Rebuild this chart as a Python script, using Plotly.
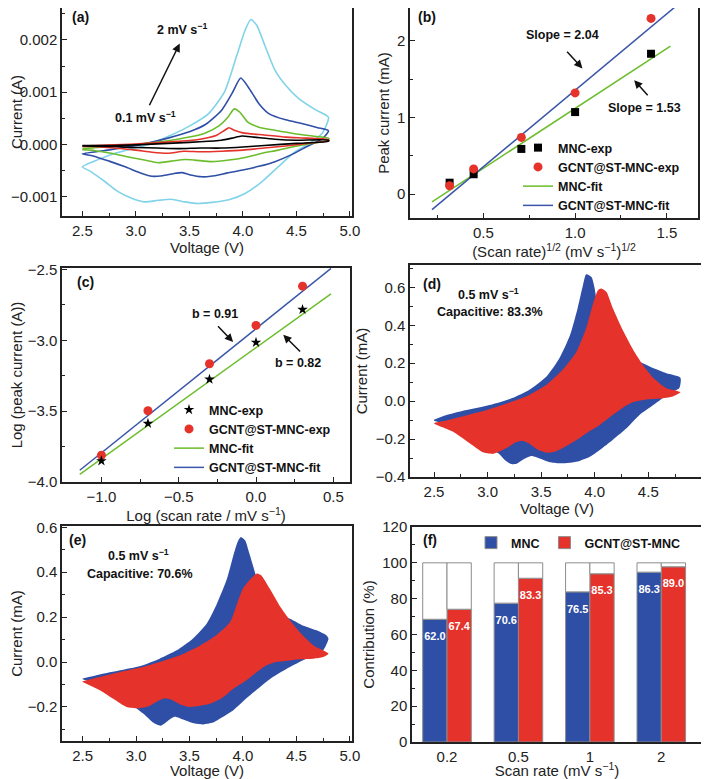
import plotly.graph_objects as go

# ---------- (a) CV curves at 0.1 / 0.2 / 0.5 / 1 / 2 mV s-1, points are (V, mA) ----------
cv_01 = [(2.5, -0.02), (2.8, -0.02), (3.1, 0.0), (3.4, 0.03), (3.6, 0.05), (3.8, 0.08), (3.9, 0.12),
         (3.99, 0.16), (4.1, 0.14), (4.3, 0.1), (4.5, 0.08), (4.8, 0.08),
         (4.8, 0.06), (4.5, 0.02), (4.2, -0.02), (4.0, -0.05), (3.8, -0.07), (3.6, -0.07), (3.4, -0.08),
         (3.2, -0.07), (3.0, -0.06), (2.8, -0.04), (2.5, -0.03)]
cv_02 = [(2.5, -0.03), (2.8, -0.01), (3.1, 0.02), (3.4, 0.06), (3.6, 0.1), (3.75, 0.17), (3.83, 0.27),
         (3.87, 0.32), (3.92, 0.27), (4.0, 0.22), (4.2, 0.18), (4.4, 0.14), (4.6, 0.12), (4.8, 0.09),
         (4.8, 0.07), (4.6, 0.02), (4.4, -0.03), (4.2, -0.07), (4.0, -0.11), (3.8, -0.13), (3.6, -0.14),
         (3.45, -0.13), (3.3, -0.17), (3.15, -0.15), (3.0, -0.11), (2.8, -0.07), (2.6, -0.04), (2.5, -0.04)]
cv_05 = [(2.5, -0.08), (2.7, -0.05), (2.9, -0.02), (3.1, 0.02), (3.3, 0.07), (3.5, 0.14), (3.65, 0.22),
         (3.78, 0.36), (3.86, 0.52), (3.92, 0.68), (3.97, 0.62), (4.05, 0.42), (4.15, 0.33), (4.3, 0.27),
         (4.5, 0.2), (4.65, 0.16), (4.8, 0.12),
         (4.8, 0.08), (4.64, 0.02), (4.48, -0.04), (4.33, -0.11), (4.18, -0.17), (4.02, -0.25), (3.87, -0.3),
         (3.71, -0.33), (3.55, -0.3), (3.46, -0.29), (3.33, -0.32), (3.21, -0.35), (3.08, -0.3),
         (2.93, -0.24), (2.77, -0.17), (2.62, -0.12), (2.5, -0.1)]
cv_1 = [(2.5, -0.18), (2.7, -0.12), (2.9, -0.06), (3.1, 0.02), (3.3, 0.12), (3.5, 0.24), (3.65, 0.38),
        (3.8, 0.65), (3.9, 0.98), (3.98, 1.27), (4.05, 1.1), (4.15, 0.78), (4.25, 0.58), (4.4, 0.47),
        (4.55, 0.4), (4.7, 0.32), (4.8, 0.26),
        (4.75, 0.12), (4.6, -0.04), (4.45, -0.2), (4.3, -0.33), (4.15, -0.42), (4.0, -0.49), (3.85, -0.55),
        (3.7, -0.61), (3.62, -0.62), (3.5, -0.58), (3.43, -0.54), (3.35, -0.56), (3.25, -0.6), (3.15, -0.61),
        (3.05, -0.55), (2.9, -0.43), (2.75, -0.32), (2.6, -0.22), (2.5, -0.18)]
cv_2 = [(2.5, -0.43), (2.6, -0.33), (2.71, -0.24), (2.82, -0.16), (2.93, -0.1), (3.12, 0.0), (3.3, 0.15),
        (3.5, 0.35), (3.68, 0.59), (3.83, 1.01), (3.94, 1.68), (4.02, 2.18), (4.075, 2.39), (4.13, 2.28),
        (4.21, 1.87), (4.3, 1.42), (4.4, 1.13), (4.52, 0.88), (4.68, 0.66), (4.8, 0.52),
        (4.74, 0.21), (4.62, 0.02), (4.49, -0.14), (4.33, -0.43), (4.18, -0.71), (4.02, -0.94), (3.87, -1.06),
        (3.71, -1.11), (3.58, -1.13), (3.46, -1.1), (3.33, -1.05), (3.21, -1.07), (3.08, -1.1), (2.96, -1.03),
        (2.83, -0.9), (2.71, -0.71), (2.58, -0.52), (2.5, -0.43)]

# ---------- (b) / (c) peak current vs scan rate ----------
sqrt_rate = [0.316, 0.447, 0.707, 1.0, 1.414]
ip_mnc = [0.15, 0.26, 0.59, 1.07, 1.83]
ip_gcnt = [0.11, 0.33, 0.74, 1.32, 2.29]
fit_b_x = [0.22, 1.52]
fit_b_mnc = [-0.10, 1.93]
fit_b_x2 = [0.22, 1.57]
fit_b_gcnt = [-0.20, 2.49]

log_rate = [-1.0, -0.699, -0.301, 0.0, 0.301]
logi_mnc = [-3.851, -3.587, -3.275, -3.015, -2.783]
logi_gcnt = [-3.811, -3.497, -3.166, -2.895, -2.618]
fit_c_x = [-1.14, 0.485]
fit_c_mnc = [-3.946, -2.672]
fit_c_gcnt = [-3.917, -2.493]

# ---------- (d) / (e) total CV (blue) and capacitive part (red), (V, mA) ----------
d_total = [(2.5, -0.098), (2.61, -0.075), (2.77, -0.051), (3.0, -0.023), (3.23, 0.016), (3.39, 0.06),
           (3.55, 0.13), (3.67, 0.226), (3.77, 0.349), (3.84, 0.489), (3.89, 0.611), (3.92, 0.669),
           (3.97, 0.655), (4.0, 0.594), (4.03, 0.471), (4.09, 0.331), (4.17, 0.261), (4.3, 0.235),
           (4.42, 0.208), (4.55, 0.173), (4.67, 0.147), (4.8, 0.124),
           (4.79, 0.07), (4.7, 0.042), (4.55, -0.019), (4.42, -0.072), (4.3, -0.142), (4.17, -0.203),
           (4.05, -0.256), (3.95, -0.295), (3.86, -0.315), (3.77, -0.325), (3.67, -0.328), (3.58, -0.322),
           (3.5, -0.305), (3.41, -0.289), (3.34, -0.305), (3.27, -0.33), (3.22, -0.332), (3.16, -0.31),
           (3.1, -0.275), (3.0, -0.25), (2.86, -0.194), (2.67, -0.133), (2.5, -0.103)]
d_cap = [(2.5, -0.116), (2.61, -0.103), (2.77, -0.08), (3.0, -0.046), (3.23, -0.002), (3.39, 0.033),
         (3.55, 0.086), (3.7, 0.165), (3.83, 0.261), (3.92, 0.384), (3.98, 0.506), (4.03, 0.585),
         (4.06, 0.594), (4.11, 0.576), (4.17, 0.489), (4.27, 0.366), (4.36, 0.27), (4.45, 0.191),
         (4.55, 0.121), (4.67, 0.068), (4.77, 0.054), (4.8, 0.047),
         (4.73, 0.025), (4.61, 0.014), (4.48, 0.009), (4.36, -0.005), (4.27, -0.032), (4.17, -0.072),
         (4.05, -0.124), (3.95, -0.159), (3.86, -0.194), (3.73, -0.238), (3.64, -0.264), (3.56, -0.272),
         (3.47, -0.256), (3.39, -0.224), (3.32, -0.209), (3.26, -0.218), (3.19, -0.243), (3.11, -0.266),
         (3.05, -0.278), (2.95, -0.268), (2.83, -0.221), (2.67, -0.159), (2.5, -0.116)]
e_total = [(2.5, -0.074), (2.66, -0.056), (2.85, -0.037), (3.04, -0.018), (3.22, 0.015), (3.38, 0.052),
           (3.53, 0.104), (3.66, 0.171), (3.75, 0.253), (3.85, 0.371), (3.91, 0.475), (3.95, 0.535),
           (3.98, 0.557), (4.02, 0.542), (4.06, 0.483), (4.13, 0.371), (4.2, 0.267), (4.31, 0.215),
           (4.44, 0.193), (4.56, 0.163), (4.69, 0.141), (4.78, 0.119), (4.8, 0.104),
           (4.75, 0.052), (4.66, 0.03), (4.53, 0.0), (4.41, -0.03), (4.28, -0.067), (4.16, -0.111),
           (4.03, -0.163), (3.91, -0.215), (3.81, -0.245), (3.72, -0.27), (3.63, -0.278), (3.55, -0.274),
           (3.45, -0.258), (3.36, -0.244), (3.29, -0.265), (3.23, -0.284), (3.16, -0.27), (3.08, -0.235),
           (3.0, -0.205), (2.85, -0.149), (2.66, -0.104), (2.5, -0.077)]
e_cap = [(2.5, -0.086), (2.66, -0.067), (2.85, -0.045), (3.04, -0.025), (3.22, 0.0), (3.41, 0.03),
         (3.6, 0.074), (3.75, 0.119), (3.88, 0.178), (3.94, 0.253), (4.0, 0.327), (4.06, 0.364),
         (4.13, 0.394), (4.17, 0.386), (4.25, 0.327), (4.34, 0.253), (4.44, 0.186), (4.53, 0.134),
         (4.66, 0.074), (4.75, 0.052), (4.8, 0.037),
         (4.75, 0.022), (4.66, 0.015), (4.53, 0.012), (4.44, 0.007), (4.31, 0.0), (4.22, -0.015),
         (4.13, -0.045), (4.03, -0.082), (3.91, -0.119), (3.8, -0.162), (3.7, -0.185), (3.6, -0.195),
         (3.5, -0.2), (3.42, -0.19), (3.34, -0.17), (3.27, -0.162), (3.2, -0.175), (3.12, -0.197),
         (3.02, -0.206), (2.91, -0.2), (2.79, -0.165), (2.66, -0.126), (2.5, -0.089)]

# ---------- (f) capacitive contribution ----------
rates = ['0.2', '0.5', '1', '2']
bar_mnc = [68.5, 77.5, 83.8, 94.8]
bar_gcnt = [74.1, 91.4, 93.9, 97.8]
lab_mnc = ['62.0', '70.6', '76.5', '86.3']
lab_gcnt = ['67.4', '83.3', '85.3', '89.0']

BLUE = '#2f4ea6'
RED = '#e5322a'
GREEN = '#6cbd2c'
LBLUE = '#3a55a8'
CYAN = '#80d3e8'
FONT = 'Liberation Sans, Arial, sans-serif'
# the page body keeps its default 8px margin, so the figure is 8px smaller than the window
OFF = 8
W, H = 709 - OFF, 779 - OFF


def fx(p):
    return (p - OFF) / W


def fy(p):
    return 1 - (p - OFF) / H


def xs(pts):
    return [p[0] for p in pts]


def ys(pts, k=1.0):
    return [p[1] * k for p in pts]


fig = go.Figure()

# (a)
for pts, col in [(cv_2, CYAN), (cv_1, BLUE), (cv_05, GREEN), (cv_02, RED), (cv_01, 'black')]:
    fig.add_trace(go.Scatter(x=xs(pts), y=ys(pts, 0.001), mode='lines', line=dict(color=col, width=1.6, shape='spline', smoothing=0.6),
                             showlegend=False, xaxis='x', yaxis='y'))

# (b)
fig.add_trace(go.Scatter(x=fit_b_x, y=fit_b_mnc, mode='lines', name='MNC-fit', line=dict(color=GREEN, width=1.5),
                         xaxis='x2', yaxis='y2', legend='legend2', legendrank=3))
fig.add_trace(go.Scatter(x=fit_b_x2, y=fit_b_gcnt, mode='lines', name='GCNT@ST-MNC-fit', line=dict(color=LBLUE, width=1.5),
                         xaxis='x2', yaxis='y2', legend='legend2', legendrank=4))
fig.add_trace(go.Scatter(x=sqrt_rate, y=ip_mnc, mode='markers', name='MNC-exp', marker=dict(symbol='square', color='black', size=8),
                         xaxis='x2', yaxis='y2', legend='legend2', legendrank=1))
fig.add_trace(go.Scatter(x=sqrt_rate, y=ip_gcnt, mode='markers', name='GCNT@ST-MNC-exp', marker=dict(symbol='circle', color=RED, size=9),
                         xaxis='x2', yaxis='y2', legend='legend2', legendrank=2))

# (c)
fig.add_trace(go.Scatter(x=fit_c_x, y=fit_c_mnc, mode='lines', name='MNC-fit', line=dict(color=GREEN, width=1.5),
                         xaxis='x3', yaxis='y3', legend='legend3', legendrank=3))
fig.add_trace(go.Scatter(x=fit_c_x, y=fit_c_gcnt, mode='lines', name='GCNT@ST-MNC-fit', line=dict(color=LBLUE, width=1.5),
                         xaxis='x3', yaxis='y3', legend='legend3', legendrank=4))
fig.add_trace(go.Scatter(x=log_rate, y=logi_gcnt, mode='markers', name='GCNT@ST-MNC-exp', marker=dict(symbol='circle', color=RED, size=9),
                         xaxis='x3', yaxis='y3', legend='legend3', legendrank=2))
fig.add_trace(go.Scatter(x=log_rate, y=logi_mnc, mode='markers', name='MNC-exp', marker=dict(symbol='star', color='black', size=8),
                         xaxis='x3', yaxis='y3', legend='legend3', legendrank=1))

# (d) and (e)
for tot, cap, xa, ya in [(d_total, d_cap, 'x4', 'y4'), (e_total, e_cap, 'x5', 'y5')]:
    fig.add_trace(go.Scatter(x=xs(tot), y=ys(tot), fill='toself', fillcolor=BLUE, mode='lines',
                             line=dict(width=0, color=BLUE, shape='spline', smoothing=0.6), showlegend=False, xaxis=xa, yaxis=ya))
    fig.add_trace(go.Scatter(x=xs(cap), y=ys(cap), fill='toself', fillcolor=RED, mode='lines',
                             line=dict(width=0, color=RED, shape='spline', smoothing=0.6), showlegend=False, xaxis=xa, yaxis=ya))

# (f)
pos = list(range(len(rates)))
xm = [p - 0.17 for p in pos]
xg = [p + 0.17 for p in pos]
edge = dict(color='#8c8c8c', width=1)
fig.add_trace(go.Bar(x=xm, y=bar_mnc, width=0.34, name='MNC', marker=dict(color=BLUE, line=edge), xaxis='x6', yaxis='y6'))
fig.add_trace(go.Bar(x=xg, y=bar_gcnt, width=0.34, name='GCNT@ST-MNC', marker=dict(color=RED, line=edge), xaxis='x6', yaxis='y6'))
fig.add_trace(go.Bar(x=xm, y=[100 - v for v in bar_mnc], base=bar_mnc, width=0.34, marker=dict(color='white', line=edge),
                     showlegend=False, xaxis='x6', yaxis='y6'))
fig.add_trace(go.Bar(x=xg, y=[100 - v for v in bar_gcnt], base=bar_gcnt, width=0.34, marker=dict(color='white', line=edge),
                     showlegend=False, xaxis='x6', yaxis='y6'))
fig.add_trace(go.Scatter(x=xm + xg, y=[v - 10 for v in bar_mnc + bar_gcnt], text=lab_mnc + lab_gcnt, mode='text',
                         textfont=dict(color='white', size=11, family=FONT, weight='bold'), showlegend=False, xaxis='x6', yaxis='y6'))


def axis(dom, rng, dtick, minor, title, anchor, fmt=None, tickvals=None, ticktext=None, ticks='inside', standoff=4):
    d = dict(domain=dom, range=rng, anchor=anchor, showline=True, linecolor='#222', linewidth=1.5, mirror=True,
             ticks=ticks, ticklen=5, tickwidth=1.2, tickcolor='#222', showgrid=False, zeroline=False, automargin=False,
             tickfont=dict(size=15, family=FONT, color='#222'),
             title=dict(text=title, font=dict(size=15, family=FONT, color='#222'), standoff=standoff))
    if dtick is not None:
        d['dtick'] = dtick
        d['tick0'] = 0
    if minor is not None:
        d['minor'] = dict(ticks='inside', ticklen=3, dtick=minor, tick0=0, tickcolor='#222', showgrid=False)
    if fmt:
        d['tickformat'] = fmt
    if tickvals is not None:
        d['tickmode'] = 'array'
        d['tickvals'] = tickvals
        d['ticktext'] = ticktext
    return d


leg_font = dict(size=12.5, family=FONT, color='#111', weight='bold')
fig.update_layout(
    width=W, height=H, autosize=False, margin=dict(l=0, r=0, t=0, b=0, pad=0, autoexpand=False),
    paper_bgcolor='white', plot_bgcolor='white', barmode='overlay', font=dict(family=FONT),
    xaxis=axis([fx(62), fx(352)], [2.31, 5.02], 0.5, 0.25, 'Voltage (V)', 'y', '.1f', standoff=1),
    yaxis=axis([fy(216), fy(8)], [-0.00137, 0.00261], 0.001, 0.0005, 'Current (A)', 'x', '.3f'),
    xaxis2=axis([fx(410), fx(698)], [0.1, 1.67], 0.5, 0.25, '(Scan rate)<sup>1/2</sup> (mV s<sup>\u22121</sup>)<sup>1/2</sup>', 'y2', '.1f', standoff=1),
    yaxis2=axis([fy(218), fy(8)], [-0.31, 2.426], 1, 0.5, 'Peak current (mA)', 'x2'),
    xaxis3=axis([fx(62), fx(350)], [-1.255, 0.608], 0.5, 0.25, 'Log (scan rate / mV s<sup>\u22121</sup>)', 'y3', '.1f', standoff=1),
    yaxis3=axis([fy(482), fy(268)], [-4.0, -2.49], 0.5, 0.25, 'Log (peak current (A))', 'x3', '.1f'),
    xaxis4=axis([fx(410), fx(704)], [2.276, 5.02], 0.5, 0.25, 'Voltage (V)', 'y4', '.1f', standoff=1),
    yaxis4=axis([fy(477), fy(265)], [-0.4, 0.718], 0.2, 0.1, 'Current (mA)', 'x4', '.1f'),
    xaxis5=axis([fx(62), fx(352)], [2.307, 5.02], 0.5, 0.25, 'Voltage (V)', 'y5', '.1f', standoff=1),
    yaxis5=axis([fy(741), fy(526)], [-0.352, 0.606], 0.2, 0.1, 'Current (mA)', 'x5', '.1f'),
    xaxis6=axis([fx(412), fx(702)], [-0.49, 3.57], None, None, 'Scan rate (mV s<sup>\u22121</sup>)', 'y6',
                tickvals=pos, ticktext=rates, ticks='', standoff=1),
    yaxis6=axis([fy(742), fy(527)], [0, 120], 20, 10, 'Contribution (%)', 'x6'),
    legend=dict(orientation='h', x=fx(471), y=fy(528), xanchor='left', yanchor='top', bgcolor='rgba(0,0,0,0)',
                font=leg_font, itemwidth=30, tracegroupgap=0),
    legend2=dict(x=fx(518), y=fy(133), xanchor='left', yanchor='top', bgcolor='rgba(0,0,0,0)', font=leg_font,
                 itemwidth=30, tracegroupgap=0),
    legend3=dict(x=fx(169), y=fy(395), xanchor='left', yanchor='top', bgcolor='rgba(0,0,0,0)', font=leg_font,
                 itemwidth=30, tracegroupgap=0),
)

bold = dict(size=12.5, family=FONT, color='#111', weight='bold')
texts = [
    ('(a)', 80, 17, 14), ('(b)', 427, 17, 14), ('(c)', 85, 282, 14), ('(d)', 432, 284, 14), ('(e)', 77, 540, 14), ('(f)', 430, 540, 14),
    ('2 mV s<sup>\u22121</sup>', 182, 29, 12.5), ('0.1 mV s<sup>\u22121</sup>', 145, 117, 12.5),
    ('0.5 mV s<sup>\u22121</sup>', 488, 294, 12.5), ('Capacitive: 83.3%', 490, 312, 12.5),
    ('0.5 mV s<sup>\u22121</sup>', 138, 555, 12.5), ('Capacitive: 70.6%', 140, 574, 12.5),
]
for t, px_, py_, sz in texts:
    fig.add_annotation(text=t, x=fx(px_), y=fy(py_), xref='paper', yref='paper', showarrow=False,
                       xanchor='center', yanchor='middle', font=dict(bold, size=sz))

# text labels with arrows in data coordinates
data_texts = [('Slope = 2.04', 0.931, 2.07, 'x2', 'y2'), ('Slope = 1.53', 1.376, 1.117, 'x2', 'y2'),
              ('b = 0.91', -0.266, -2.814, 'x3', 'y3'), ('b = 0.82', 0.273, -3.161, 'x3', 'y3')]
for t, x, y, xa, ya in data_texts:
    fig.add_annotation(text=t, x=x, y=y, xref=xa, yref=ya, showarrow=False, xanchor='center', yanchor='middle', font=bold)

arrows = [(3.41, 0.00193, 3.12, 0.00072, 'x', 'y'),
          (1.04, 1.639, 0.949, 1.877, 'x2', 'y2'), (1.322, 1.486, 1.403, 1.269, 'x2', 'y2'),
          (-0.148, -3.012, -0.255, -2.89, 'x3', 'y3'), (0.176, -2.961, 0.295, -3.09, 'x3', 'y3')]
for x, y, ax_, ay_, xa, ya in arrows:
    fig.add_annotation(x=x, y=y, ax=ax_, ay=ay_, xref=xa, yref=ya, axref=xa, ayref=ya, text='',
                       showarrow=True, arrowhead=2, arrowsize=1.1, arrowwidth=1.5, arrowcolor='#111')

fig.write_html("out.html")
